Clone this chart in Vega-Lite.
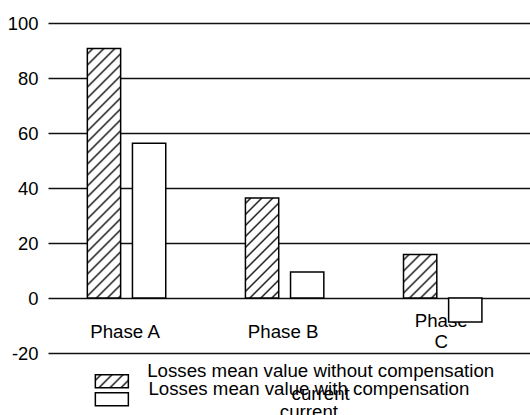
{
  "$schema": "https://vega.github.io/schema/vega-lite/v6.json",
  "width": 482,
  "height": 330,
  "autosize": {"type": "none"},
  "padding": {"left": 48, "top": 23, "right": 0, "bottom": 62},
  "background": "white",
  "config": {
    "font": "Liberation Sans",
    "view": {"stroke": null},
    "style": {"guide-label": {"lineHeight": 22.5}}
  },
  "data": {
    "values": [
      {"phase": "Phase A", "series": "Losses mean value without compensation current", "value": 90.7},
      {"phase": "Phase A", "series": "Losses mean value with compensation current", "value": 56.3},
      {"phase": "Phase B", "series": "Losses mean value without compensation current", "value": 36.4},
      {"phase": "Phase B", "series": "Losses mean value with compensation current", "value": 9.5},
      {"phase": "Phase C", "series": "Losses mean value without compensation current", "value": 15.8},
      {"phase": "Phase C", "series": "Losses mean value with compensation current", "value": -8.7}
    ]
  },
  "encoding": {
    "x": {
      "field": "phase",
      "type": "nominal",
      "scale": {"paddingInner": 0.504, "paddingOuter": 0.2765, "align": 0.45},
      "axis": {
        "title": null,
        "orient": "bottom",
        "offset": -55,
        "domain": false,
        "ticks": false,
        "grid": false,
        "labelAngle": 0,
        "labelPadding": {"condition": {"test": "datum.value == 'Phase C'", "value": 22.2}, "value": 33},
        "labelBaseline": "middle",
        "labelFontSize": 18.7,
        "labelLineHeight": 21.7,
        "labelColor": "black",
        "labelOffset": -1.5,
        "labelExpr": "datum.value == 'Phase C' ? ['Phase', 'C'] : datum.value"
      }
    },
    "xOffset": {
      "field": "series",
      "type": "nominal",
      "scale": {
        "domain": ["Losses mean value without compensation current", "Losses mean value with compensation current"],
        "paddingInner": 0.262,
        "paddingOuter": 0
      }
    },
    "y": {
      "field": "value",
      "type": "quantitative",
      "scale": {"domain": [-20, 100], "nice": false},
      "axis": {
        "title": null,
        "values": [-20, 0, 20, 40, 60, 80, 100],
        "domain": false,
        "ticks": false,
        "labelPadding": 10,
        "labelFontSize": 18.4,
        "labelColor": "black",
        "labelExpr": "replace(datum.label, '\u2212', '-')",
        "gridColor": "#111111",
        "gridWidth": 1.5,
        "gridOpacity": 1
      }
    }
  },
  "layer": [
    {
      "transform": [{"filter": "indexof(datum.series, 'without') >= 0"}],
      "mark": {"type": "bar", "stroke": "black", "strokeWidth": 1.5},
      "encoding": {
        "fill": {
          "field": "series",
          "type": "nominal",
          "scale": {
            "domain": ["Losses mean value without compensation current"],
            "range": [
              {"expr": "{gradient: 'linear', x1: 0, y1: 0, x2: 1.20668, y2: 0.47536, stops: [{offset: 0, color: 'white'}, {offset: 0.07609, color: 'white'}, {offset: 0.11957, color: '#111111'}, {offset: 0.16304, color: 'white'}, {offset: 0.31522, color: 'white'}, {offset: 0.35870, color: '#111111'}, {offset: 0.40217, color: 'white'}, {offset: 0.55435, color: 'white'}, {offset: 0.59783, color: '#111111'}, {offset: 0.64130, color: 'white'}, {offset: 0.79348, color: 'white'}, {offset: 0.83696, color: '#111111'}, {offset: 0.88043, color: 'white'}, {offset: 1, color: 'white'}]}"}
            ]
          },
          "legend": {
            "orient": "none",
            "legendX": 54.5,
            "legendY": 349,
            "title": null,
            "padding": 0,
            "rowPadding": 0,
            "symbolType": "M-3.3,-1.3H3.3V1.3H-3.3Z",
            "symbolSize": 100,
            "symbolStrokeColor": "black",
            "symbolStrokeWidth": 1.5,
            "labelFontSize": 18.7,
            "labelColor": "black",
            "labelAlign": "center",
            "labelBaseline": "bottom",
            "labelOffset": 199.5,
            "labelLimit": 600,
            "labelExpr": "[replace(datum.label, ' current', ''), 'current']"
          },
          "condition": [
            {
              "test": "datum.phase == 'Phase A'",
              "value": {"gradient": "linear", "x1": 0, "y1": 0, "x2": 0.14870, "y2": 1.11367, "stops": [
                {"offset": 0, "color": "white"},
                {"offset": 0.01238, "color": "white"}, {"offset": 0.01946, "color": "#111111"}, {"offset": 0.02653, "color": "white"},
                {"offset": 0.05129, "color": "white"}, {"offset": 0.05837, "color": "#111111"}, {"offset": 0.06544, "color": "white"},
                {"offset": 0.09020, "color": "white"}, {"offset": 0.09728, "color": "#111111"}, {"offset": 0.10435, "color": "white"},
                {"offset": 0.12911, "color": "white"}, {"offset": 0.13619, "color": "#111111"}, {"offset": 0.14326, "color": "white"},
                {"offset": 0.16802, "color": "white"}, {"offset": 0.17510, "color": "#111111"}, {"offset": 0.18217, "color": "white"},
                {"offset": 0.20693, "color": "white"}, {"offset": 0.21401, "color": "#111111"}, {"offset": 0.22108, "color": "white"},
                {"offset": 0.24584, "color": "white"}, {"offset": 0.25292, "color": "#111111"}, {"offset": 0.25999, "color": "white"},
                {"offset": 0.28475, "color": "white"}, {"offset": 0.29183, "color": "#111111"}, {"offset": 0.29890, "color": "white"},
                {"offset": 0.32366, "color": "white"}, {"offset": 0.33074, "color": "#111111"}, {"offset": 0.33781, "color": "white"},
                {"offset": 0.36257, "color": "white"}, {"offset": 0.36965, "color": "#111111"}, {"offset": 0.37672, "color": "white"},
                {"offset": 0.40148, "color": "white"}, {"offset": 0.40856, "color": "#111111"}, {"offset": 0.41563, "color": "white"},
                {"offset": 0.44039, "color": "white"}, {"offset": 0.44747, "color": "#111111"}, {"offset": 0.45454, "color": "white"},
                {"offset": 0.47930, "color": "white"}, {"offset": 0.48638, "color": "#111111"}, {"offset": 0.49345, "color": "white"},
                {"offset": 0.51821, "color": "white"}, {"offset": 0.52529, "color": "#111111"}, {"offset": 0.53236, "color": "white"},
                {"offset": 0.55712, "color": "white"}, {"offset": 0.56420, "color": "#111111"}, {"offset": 0.57127, "color": "white"},
                {"offset": 0.59604, "color": "white"}, {"offset": 0.60311, "color": "#111111"}, {"offset": 0.61018, "color": "white"},
                {"offset": 0.63495, "color": "white"}, {"offset": 0.64202, "color": "#111111"}, {"offset": 0.64910, "color": "white"},
                {"offset": 0.67386, "color": "white"}, {"offset": 0.68093, "color": "#111111"}, {"offset": 0.68801, "color": "white"},
                {"offset": 0.71277, "color": "white"}, {"offset": 0.71984, "color": "#111111"}, {"offset": 0.72692, "color": "white"},
                {"offset": 0.75168, "color": "white"}, {"offset": 0.75875, "color": "#111111"}, {"offset": 0.76583, "color": "white"},
                {"offset": 0.79059, "color": "white"}, {"offset": 0.79766, "color": "#111111"}, {"offset": 0.80474, "color": "white"},
                {"offset": 0.82950, "color": "white"}, {"offset": 0.83657, "color": "#111111"}, {"offset": 0.84365, "color": "white"},
                {"offset": 0.86841, "color": "white"}, {"offset": 0.87548, "color": "#111111"}, {"offset": 0.88256, "color": "white"},
                {"offset": 0.90732, "color": "white"}, {"offset": 0.91439, "color": "#111111"}, {"offset": 0.92147, "color": "white"},
                {"offset": 0.94623, "color": "white"}, {"offset": 0.95330, "color": "#111111"}, {"offset": 0.96038, "color": "white"},
                {"offset": 0.98514, "color": "white"}, {"offset": 0.99222, "color": "#111111"}, {"offset": 0.99929, "color": "white"},
                {"offset": 1, "color": "white"}
              ]}
            },
            {
              "test": "datum.phase == 'Phase B'",
              "value": {"gradient": "linear", "x1": 0, "y1": 0, "x2": 0.39916, "y2": 1.19990, "stops": [
                {"offset": 0, "color": "white"},
                {"offset": 0.02624, "color": "white"}, {"offset": 0.04123, "color": "#111111"}, {"offset": 0.05622, "color": "white"},
                {"offset": 0.10870, "color": "white"}, {"offset": 0.12369, "color": "#111111"}, {"offset": 0.13868, "color": "white"},
                {"offset": 0.19116, "color": "white"}, {"offset": 0.20615, "color": "#111111"}, {"offset": 0.22114, "color": "white"},
                {"offset": 0.27361, "color": "white"}, {"offset": 0.28861, "color": "#111111"}, {"offset": 0.30360, "color": "white"},
                {"offset": 0.35607, "color": "white"}, {"offset": 0.37107, "color": "#111111"}, {"offset": 0.38606, "color": "white"},
                {"offset": 0.43853, "color": "white"}, {"offset": 0.45352, "color": "#111111"}, {"offset": 0.46852, "color": "white"},
                {"offset": 0.52099, "color": "white"}, {"offset": 0.53598, "color": "#111111"}, {"offset": 0.55098, "color": "white"},
                {"offset": 0.60345, "color": "white"}, {"offset": 0.61844, "color": "#111111"}, {"offset": 0.63343, "color": "white"},
                {"offset": 0.68591, "color": "white"}, {"offset": 0.70090, "color": "#111111"}, {"offset": 0.71589, "color": "white"},
                {"offset": 0.76837, "color": "white"}, {"offset": 0.78336, "color": "#111111"}, {"offset": 0.79835, "color": "white"},
                {"offset": 0.85083, "color": "white"}, {"offset": 0.86582, "color": "#111111"}, {"offset": 0.88081, "color": "white"},
                {"offset": 0.93329, "color": "white"}, {"offset": 0.94828, "color": "#111111"}, {"offset": 0.96327, "color": "white"},
                {"offset": 1, "color": "white"}
              ]}
            },
            {
              "test": "datum.phase == 'Phase C'",
              "value": {"gradient": "linear", "x1": 0, "y1": 0, "x2": 0.85282, "y2": 1.11277, "stops": [
                {"offset": 0, "color": "white"},
                {"offset": 0.04560, "color": "white"}, {"offset": 0.07166, "color": "#111111"}, {"offset": 0.09772, "color": "white"},
                {"offset": 0.18892, "color": "white"}, {"offset": 0.21498, "color": "#111111"}, {"offset": 0.24104, "color": "white"},
                {"offset": 0.33224, "color": "white"}, {"offset": 0.35830, "color": "#111111"}, {"offset": 0.38436, "color": "white"},
                {"offset": 0.47556, "color": "white"}, {"offset": 0.50162, "color": "#111111"}, {"offset": 0.52768, "color": "white"},
                {"offset": 0.61888, "color": "white"}, {"offset": 0.64494, "color": "#111111"}, {"offset": 0.67100, "color": "white"},
                {"offset": 0.76220, "color": "white"}, {"offset": 0.78826, "color": "#111111"}, {"offset": 0.81432, "color": "white"},
                {"offset": 0.90552, "color": "white"}, {"offset": 0.93158, "color": "#111111"}, {"offset": 0.95764, "color": "white"},
                {"offset": 1, "color": "white"}
              ]}
            }
          ]
        }
      }
    },
    {
      "transform": [{"filter": "indexof(datum.series, 'without') < 0"}],
      "mark": {"type": "bar", "stroke": "black", "strokeWidth": 1.5},
      "encoding": {
        "fill": {
          "field": "series",
          "type": "nominal",
          "scale": {
            "domain": ["Losses mean value with compensation current"],
            "range": ["white"]
          },
          "legend": {
            "orient": "none",
            "legendX": 54.5,
            "legendY": 367,
            "title": null,
            "padding": 0,
            "rowPadding": 0,
            "symbolType": "M-3.3,-1.3H3.3V1.3H-3.3Z",
            "symbolSize": 100,
            "symbolStrokeColor": "black",
            "symbolStrokeWidth": 1.5,
            "labelFontSize": 18.7,
            "labelColor": "black",
            "labelAlign": "center",
            "labelBaseline": "bottom",
            "labelOffset": 187.7,
            "labelLimit": 600,
            "labelExpr": "[replace(datum.label, ' current', ''), 'current']"
          }
        }
      }
    }
  ],
  "resolve": {"scale": {"fill": "independent"}, "legend": {"fill": "independent"}}
}
